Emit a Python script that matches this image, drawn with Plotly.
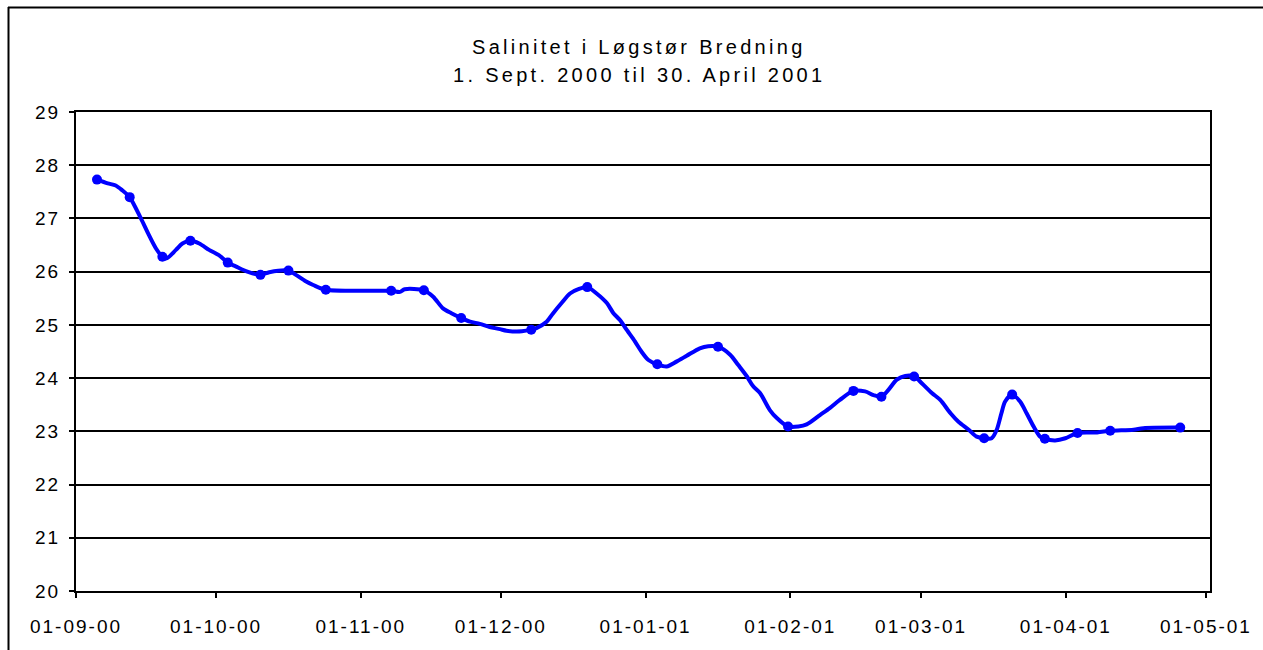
import pandas as pd
import plotly.graph_objects as go

# ---------------- data ----------------
title_line1 = "Salinitet i Løgstør Bredning"
title_line2 = "1. Sept. 2000 til 30. April 2001"

# measured samples (date, salinity)
sample_dates = ["2000-09-05", "2000-09-12", "2000-09-19", "2000-09-25", "2000-10-03",
                "2000-10-10", "2000-10-16", "2000-10-24", "2000-11-07", "2000-11-14",
                "2000-11-22", "2000-12-07", "2000-12-19", "2001-01-03", "2001-01-16",
                "2001-01-31", "2001-02-14", "2001-02-20", "2001-02-27", "2001-03-14",
                "2001-03-20", "2001-03-27", "2001-04-03", "2001-04-10", "2001-04-25"]
sample_sal = [27.73, 27.40, 26.28, 26.58, 26.17, 25.94, 26.02, 25.66, 25.64, 25.65,
              25.13, 24.91, 25.71, 24.26, 24.59, 23.09, 23.76, 23.65, 24.03, 22.87,
              23.69, 22.86, 22.97, 23.01, 23.07]

# intermediate points of the drawn curve (days since 1 Sept 2000, salinity)
between_day = [6.8, 8.5, 9.9, 13.9, 15.6, 17.1, 19.4, 21.4, 22.8, 26.4, 28.5, 30.6,
               34.2, 36.7, 41.4, 47.1, 49.2, 50.8, 69.4, 70.4, 76.5, 78.6, 80.4, 84.4,
               86.5, 88.6, 90.8, 92.2, 95.5, 98.6, 100.8, 102.2, 104.0, 105.8, 107.6,
               111.5, 113.7, 115.1, 116.5, 118.0, 119.7, 121.1, 122.6, 126.5, 128.6,
               130.8, 133.6, 135.4, 140.1, 141.8, 143.7, 145.0, 146.5, 148.6, 150.1,
               154.7, 156.5, 159.4, 161.5, 163.6, 169.0, 170.8, 174.0, 175.8, 177.6,
               181.2, 183.3, 185.1, 187.3, 189.0, 191.2, 192.9, 196.1, 197.2, 198.2,
               199.0, 202.2, 203.6, 205.1, 206.5, 209.7, 211.9, 218.7, 226.5, 228.6]
between_sal = [27.66, 27.62, 27.53, 27.00, 26.69, 26.44, 26.25, 26.41, 26.53, 26.53, 26.41, 26.31,
               26.10, 26.00, 25.99, 25.94, 25.82, 25.75, 25.62, 25.67, 25.53, 25.31, 25.22, 25.06,
               25.02, 24.96, 24.92, 24.89, 24.88, 24.94, 25.06, 25.22, 25.41, 25.59, 25.67,
               25.59, 25.41, 25.22, 25.09, 24.90, 24.69, 24.50, 24.34, 24.22, 24.31,
               24.42, 24.56, 24.60, 24.44, 24.25, 24.03, 23.85, 23.72, 23.40, 23.25,
               23.09, 23.13, 23.31, 23.44, 23.59, 23.75, 23.68, 23.78, 23.97, 24.04,
               23.90, 23.72, 23.59, 23.34, 23.18, 23.03, 22.90, 22.87, 23.03, 23.34,
               23.56, 23.56, 23.34, 23.09, 22.90, 22.83, 22.87, 22.98, 23.03, 23.06]

tick_dates = ["2000-09-01", "2000-10-01", "2000-11-01", "2000-12-01", "2001-01-01",
              "2001-02-01", "2001-03-01", "2001-04-01", "2001-05-01"]
tick_labels = ["01-09-00", "01-10-00", "01-11-00", "01-12-00", "01-01-01",
               "01-02-01", "01-03-01", "01-04-01", "01-05-01"]
y_ticks = [20, 21, 22, 23, 24, 25, 26, 27, 28, 29]

# ---------------- build ----------------
start = pd.Timestamp("2000-09-01")
samp_x = pd.to_datetime(sample_dates) + pd.Timedelta(hours=12)   # centred in day slot
betw_x = start + pd.to_timedelta(between_day, unit="D")

curve = pd.DataFrame({"x": list(samp_x) + list(betw_x),
                      "y": sample_sal + between_sal}).sort_values("x")

FONT = "Liberation Sans, Arial, sans-serif"
BLUE = "#0000FF"


def spaced(t, px):
    return f'<span style="letter-spacing:{px}px">{t}</span>'


fig = go.Figure()
fig.add_trace(go.Scatter(x=curve["x"], y=curve["y"], mode="lines",
                         line=dict(color=BLUE, width=4, shape="spline", smoothing=0.8),
                         hoverinfo="skip", showlegend=False))
fig.add_trace(go.Scatter(x=samp_x, y=sample_sal, mode="markers",
                         marker=dict(color=BLUE, size=10),
                         showlegend=False))

W, H = 1263, 650
L, T = 76, 112
R = W - 1210
B = H - 591
pw, ph = W - L - R, H - T - B

fig.update_layout(
    width=W, height=H,
    margin=dict(l=L, r=R, t=T, b=B, pad=0),
    paper_bgcolor="white", plot_bgcolor="white",
    font=dict(family=FONT, color="black"),
    showlegend=False,
)

fig.update_xaxes(
    type="date",
    range=["2000-09-01", "2001-05-01 21:00"],
    tickvals=tick_dates, ticktext=[spaced(t, 2) for t in tick_labels],
    tickfont=dict(family=FONT, size=19, color="black"),
    showgrid=False, zeroline=False,
    showline=True, linecolor="black", linewidth=2, mirror=True,
    ticks="outside", ticklen=5, tickwidth=1.5, tickcolor="black",
    ticklabelstandoff=12,
)
fig.update_yaxes(
    range=[20, 29],
    tickvals=y_ticks, ticktext=[spaced(str(v), 2) for v in y_ticks],
    tickfont=dict(family=FONT, size=19, color="black"),
    showgrid=True, gridcolor="black", gridwidth=1.5, zeroline=False,
    showline=True, linecolor="black", linewidth=2, mirror=True,
    ticks="outside", ticklen=5, tickwidth=1.5, tickcolor="black",
    ticklabelstandoff=5,
)

# titles
for txt, ypx in [(title_line1, 47), (title_line2, 75)]:
    fig.add_annotation(text=spaced(txt, 3.3), xref="paper", yref="paper",
                       x=(639 - L) / pw, y=(H - B - ypx) / ph, showarrow=False,
                       xanchor="center", yanchor="middle",
                       font=dict(family=FONT, size=20, color="black"))

# outer chart frame (Excel chart area border): top and left edges visible,
# continuing past the right and bottom edges of the picture
fx = lambda px: (px - L) / pw
fy = lambda py: (H - B - py) / ph
fig.add_shape(type="line", xref="paper", yref="paper",
              x0=fx(8), x1=fx(1300), y0=fy(7.5), y1=fy(7.5),
              line=dict(color="black", width=2))
fig.add_shape(type="line", xref="paper", yref="paper",
              x0=fx(8.5), x1=fx(8.5), y0=fy(7), y1=fy(700),
              line=dict(color="black", width=2))

fig.write_html("out.html", config={"displayModeBar": False},
               post_script="document.body.style.margin='0';")
